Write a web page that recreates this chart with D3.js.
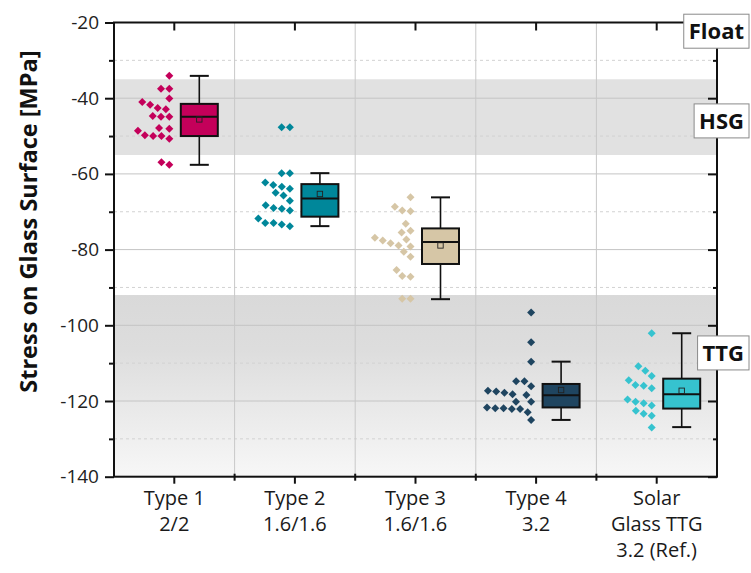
<!DOCTYPE html>
<html>
<head>
<meta charset="utf-8">
<script src="https://cdn.jsdelivr.net/npm/d3@7"></script>
<style>
  html, body { margin: 0; padding: 0; background: #fff; }
  svg { display: block; font-family: "Open Sans", "Noto Sans", sans-serif; }
</style>
</head>
<body>
<svg id="chart" width="751" height="573"></svg>
<script>
// ---- data ----
const categories = ["Type 1", "Type 2", "Type 3", "Type 4", "Solar"];
const categoryLabels = [
  ["Type 1", "2/2"],
  ["Type 2", "1.6/1.6"],
  ["Type 3", "1.6/1.6"],
  ["Type 4", "3.2"],
  ["Solar", "Glass TTG", "3.2 (Ref.)"]
];
const colors = ["#c4005a", "#00879a", "#d6c6a6", "#1f4560", "#36c3cf"];

// individual measurements per specimen type [MPa]
const type1Values = [-34.1, -37.5, -37.5, -40.1, -41.0, -41.7, -42.6, -42.9, -44.7, -44.9,
                     -44.9, -47.9, -48.1, -48.6, -49.8, -50.0, -50.0, -50.7, -56.9, -57.6];
const type2Values = [-47.7, -47.7, -59.8, -59.8, -62.3, -62.9, -63.4, -63.9, -65.0, -65.7,
                     -67.1, -68.3, -69.0, -69.2, -69.7, -71.8, -73.0, -73.0, -73.4, -73.8];
const type3Values = [-66.2, -68.7, -69.9, -69.7, -73.2, -75.0, -75.5, -76.9, -77.3, -77.6,
                     -78.3, -78.9, -79.2, -80.6, -81.9, -85.4, -87.0, -87.2, -93.0, -93.0];
const type4Values = [-96.6, -104.5, -109.6, -114.8, -114.8, -116.1, -117.3, -117.5, -117.8, -118.2,
                     -118.4, -120.2, -120.2, -121.7, -121.9, -121.9, -122.1, -122.1, -123.0, -125.0];
const solarValues = [-102.1, -110.8, -112.0, -113.4, -114.5, -115.8, -116.0, -116.6,
                     -119.6, -120.2, -120.6, -121.2, -122.6, -123.4, -123.9, -127.0];
const seriesValues = [type1Values, type2Values, type3Values, type4Values, solarValues];

// box statistics per type
const q1Values       = [-50.0, -71.3, -83.8, -121.7, -122.0];
const medianValues   = [-44.9, -66.5, -78.0, -118.5, -118.2];
const q3Values       = [-41.5, -62.7, -74.4, -115.5, -114.1];
const meanValues     = [-45.6, -65.3, -78.9, -117.1, -117.3];
const whiskerLow     = [-57.6, -73.8, -93.1, -125.0, -126.9];
const whiskerHigh    = [-34.1, -59.8, -66.2, -109.6, -102.1];

// glass strength regions
const bandHSG = [-35, -55];
const bandTTG = [-92, -140];
const regionLabels = ["Float", "HSG", "TTG"];
const regionLabelValues = [-22.3, -46.0, -107.3];

const yMajorTicks = [-20, -40, -60, -80, -100, -120, -140];
const yMinorTicks = [-30, -50, -70, -90, -110, -130];

// ---- layout ----
const svg = d3.select("#chart");
const plotLeft = 114, plotRight = 717, plotTop = 22.5, plotBottom = 476.7;

const x = d3.scaleBand().domain(categories).range([plotLeft, plotRight]).padding(0);
const y = d3.scaleLinear().domain([-140, -20]).range([plotBottom, plotTop]);
const bw = x.bandwidth();
const boxOffset = 25, boxHalf = 18.5, capHalf = 9.5, swarmOffset = -5;

// gradient for the TTG region
const defs = svg.append("defs");
const grad = defs.append("linearGradient").attr("id", "ttgGrad")
  .attr("x1", 0).attr("y1", 0).attr("x2", 0).attr("y2", 1);
grad.append("stop").attr("offset", "0%").attr("stop-color", "#d9d9d9");
grad.append("stop").attr("offset", "30%").attr("stop-color", "#dddddd");
grad.append("stop").attr("offset", "100%").attr("stop-color", "#f7f7f7");

// region bands
svg.append("rect")
  .attr("x", plotLeft).attr("width", plotRight - plotLeft)
  .attr("y", y(bandHSG[0])).attr("height", y(bandHSG[1]) - y(bandHSG[0]))
  .attr("fill", "#e1e1e1");
svg.append("rect")
  .attr("x", plotLeft).attr("width", plotRight - plotLeft)
  .attr("y", y(bandTTG[0])).attr("height", y(bandTTG[1]) - y(bandTTG[0]))
  .attr("fill", "url(#ttgGrad)");

// grid
const grid = svg.append("g");
grid.selectAll(".gmaj").data(yMajorTicks.filter(t => t > -140 && t < -20)).join("line")
  .attr("x1", plotLeft).attr("x2", plotRight)
  .attr("y1", d => y(d)).attr("y2", d => y(d))
  .attr("stroke", "#c4c4c4").attr("stroke-width", 1);
grid.selectAll(".gmin").data(yMinorTicks).join("line")
  .attr("x1", plotLeft).attr("x2", plotRight)
  .attr("y1", d => y(d)).attr("y2", d => y(d))
  .attr("stroke", "#d2d2d2").attr("stroke-width", 1).attr("stroke-dasharray", "3,3");
grid.selectAll(".gv").data(categories.slice(1)).join("line")
  .attr("x1", d => x(d)).attr("x2", d => x(d))
  .attr("y1", plotTop).attr("y2", plotBottom)
  .attr("stroke", "#c8c8c8").attr("stroke-width", 1);

// beeswarm placement: points packed leftwards from a column next to the box
const dMin = 8.3;
function swarm(vals) {
  const order = vals.map((v, i) => ({ v, i, py: y(v) })).sort((a, b) => a.v - b.v);
  const placed = [];
  const out = new Array(vals.length);
  for (const p of order) {
    const cands = [0];
    for (const q of placed) {
      const dy = Math.abs(p.py - q.py);
      if (dy < dMin) cands.push(q.dx - Math.sqrt(dMin * dMin - dy * dy));
    }
    cands.sort((a, b) => b - a);
    let chosen = cands[cands.length - 1];
    for (const c of cands) {
      if (c > 0) continue;
      const ok = placed.every(q => (c - q.dx) ** 2 + (p.py - q.py) ** 2 >= dMin * dMin - 0.01);
      if (ok) { chosen = c; break; }
    }
    const rec = { dx: chosen, py: p.py, v: p.v };
    placed.push(rec);
    out[p.i] = rec;
  }
  return out;
}

const diamond = r => `M0,${-r}L${r},0L0,${r}L${-r},0Z`;

categories.forEach((cat, k) => {
  const cx = x(cat) + bw / 2;
  const g = svg.append("g");
  const col = colors[k];

  // points
  const pts = swarm(seriesValues[k]);
  g.selectAll("path.pt").data(pts).join("path")
    .attr("d", diamond(4))
    .attr("transform", p => `translate(${cx + swarmOffset + p.dx},${y(p.v)})`)
    .attr("fill", col);

  const bx = cx + boxOffset;
  // whiskers
  g.append("line").attr("x1", bx).attr("x2", bx)
    .attr("y1", y(q3Values[k])).attr("y2", y(whiskerHigh[k]))
    .attr("stroke", "#111").attr("stroke-width", 1.6);
  g.append("line").attr("x1", bx).attr("x2", bx)
    .attr("y1", y(q1Values[k])).attr("y2", y(whiskerLow[k]))
    .attr("stroke", "#111").attr("stroke-width", 1.6);
  [whiskerHigh[k], whiskerLow[k]].forEach(v => {
    g.append("line").attr("x1", bx - capHalf).attr("x2", bx + capHalf)
      .attr("y1", y(v)).attr("y2", y(v))
      .attr("stroke", "#111").attr("stroke-width", 2);
  });
  // box
  g.append("rect")
    .attr("x", bx - boxHalf).attr("width", boxHalf * 2)
    .attr("y", y(q3Values[k])).attr("height", y(q1Values[k]) - y(q3Values[k]))
    .attr("fill", col).attr("stroke", "#111").attr("stroke-width", 2);
  // median
  g.append("line").attr("x1", bx - boxHalf).attr("x2", bx + boxHalf)
    .attr("y1", y(medianValues[k])).attr("y2", y(medianValues[k]))
    .attr("stroke", "#111").attr("stroke-width", 2);
  // mean
  g.append("rect")
    .attr("x", bx - 2.7).attr("y", y(meanValues[k]) - 2.7)
    .attr("width", 5.4).attr("height", 5.4)
    .attr("fill", "none").attr("stroke", "#222").attr("stroke-width", 0.9);
});

// axes
const axisColor = "#111";
const axes = svg.append("g");
// frame
axes.append("rect").attr("x", plotLeft).attr("y", plotTop)
  .attr("width", plotRight - plotLeft).attr("height", plotBottom - plotTop)
  .attr("fill", "none").attr("stroke", axisColor).attr("stroke-width", 2);

// left axis (outward ticks)
const gL = axes.append("g").attr("transform", `translate(${plotLeft},0)`)
  .call(d3.axisLeft(y).tickValues(yMajorTicks).tickSize(9).tickPadding(6)
    .tickFormat(d => String(d)));
gL.select(".domain").remove();
gL.selectAll("line").attr("stroke", axisColor).attr("stroke-width", 2);
gL.selectAll("text").attr("font-size", 19).attr("fill", "#222")
  .attr("font-family", "'Open Sans', sans-serif");
axes.append("g").attr("transform", `translate(${plotLeft},0)`)
  .call(d3.axisLeft(y).tickValues(yMinorTicks).tickSize(5).tickFormat(""))
  .call(s => s.select(".domain").remove())
  .selectAll("line").attr("stroke", axisColor).attr("stroke-width", 2);

// right axis (inward ticks)
axes.append("g").attr("transform", `translate(${plotRight},0)`)
  .call(d3.axisLeft(y).tickValues(yMajorTicks).tickSize(9).tickFormat(""))
  .call(s => s.select(".domain").remove())
  .selectAll("line").attr("stroke", axisColor).attr("stroke-width", 2);
axes.append("g").attr("transform", `translate(${plotRight},0)`)
  .call(d3.axisLeft(y).tickValues(yMinorTicks).tickSize(4).tickFormat(""))
  .call(s => s.select(".domain").remove())
  .selectAll("line").attr("stroke", axisColor).attr("stroke-width", 2);

// bottom axis
const gB = axes.append("g").attr("transform", `translate(0,${plotBottom})`)
  .call(d3.axisBottom(x).tickSize(7).tickFormat(""));
gB.select(".domain").remove();
gB.selectAll("line").attr("stroke", axisColor).attr("stroke-width", 2);
gB.selectAll(".minor").data(categories.slice(1)).join("line")
  .attr("x1", c => x(c)).attr("x2", c => x(c)).attr("y1", -3).attr("y2", 4)
  .attr("stroke", axisColor).attr("stroke-width", 2);

// top axis (inward ticks)
const gT = axes.append("g").attr("transform", `translate(0,${plotTop})`)
  .call(d3.axisBottom(x).tickSize(8).tickFormat(""));
gT.select(".domain").remove();
gT.selectAll("line").attr("stroke", axisColor).attr("stroke-width", 2);

// category labels
categories.forEach((cat, k) => {
  const cx = x(cat) + bw / 2;
  const t = svg.append("text").attr("text-anchor", "middle")
    .attr("font-size", 20).attr("fill", "#1a1a1a");
  categoryLabels[k].forEach((line, i) => {
    t.append("tspan").attr("x", cx).attr("y", 505 + i * 26).text(line);
  });
});

// y axis title
svg.append("text")
  .attr("transform", `translate(37,${(plotTop + plotBottom) / 2 - 28}) rotate(-90)`)
  .attr("text-anchor", "middle")
  .attr("font-size", 23.5).attr("font-weight", "bold").attr("fill", "#111")
  .text("Stress on Glass Surface [MPa]");

// region labels
regionLabels.forEach((lab, i) => {
  const g = svg.append("g");
  const t = g.append("text").attr("font-size", 22).attr("font-weight", "bold")
    .attr("fill", "#111").attr("text-anchor", "end")
    .attr("x", 744).attr("y", y(regionLabelValues[i]) + 8).text(lab);
  const bb = t.node().getBBox();
  g.insert("rect", "text")
    .attr("x", bb.x - 5).attr("y", y(regionLabelValues[i]) - 17)
    .attr("width", bb.width + 10).attr("height", 34)
    .attr("fill", "#fff").attr("stroke", "#8a8a8a").attr("stroke-width", 1);
});
</script>
</body>
</html>
